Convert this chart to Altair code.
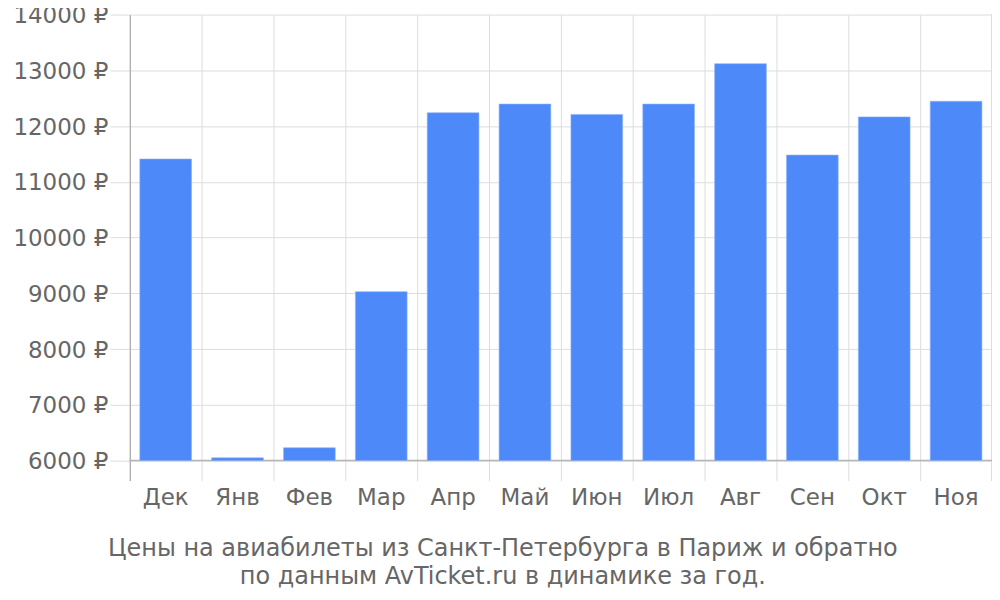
import altair as alt
import pandas as pd

months = ["Дек", "Янв", "Фев", "Мар", "Апр", "Май", "Июн", "Июл", "Авг", "Сен", "Окт", "Ноя"]
prices = [11410, 6050, 6230, 9030, 12240, 12395, 12210, 12395, 13120, 11480, 12165, 12445]
y_ticks = [6000, 7000, 8000, 9000, 10000, 11000, 12000, 13000, 14000]
baseline = 6000
title_lines = ["Цены на авиабилеты из Санкт-Петербурга в Париж и обратно",
               "по данным AvTicket.ru в динамике за год."]

df = pd.DataFrame({"month": months, "price": prices})

FONT = "DejaVu Sans"
TXT = "#666666"
W, H = 864, 467

xscale = alt.Scale(paddingInner=0, paddingOuter=0)
yscale = alt.Scale(domain=[5640, 14000], nice=False, zero=False)

yaxis = alt.Axis(title=None, values=y_ticks, labelExpr="datum.value + ' ₽'",
                 labelFontSize=23, labelColor=TXT, labelFont=FONT, labelPadding=2,
                 labelOffset=1,
                 tickSize=20, tickColor="#dddddd", domainColor="#9e9e9e",
                 gridColor="#dddddd", grid=True)

bars = alt.Chart(df).mark_bar(color="#4d89f9", stroke="#8fb4fb", strokeWidth=0.6,
                              width=alt.RelativeBandSize(0.72)).encode(
    x=alt.X("month:N", sort=months, scale=xscale,
            axis=alt.Axis(title=None, orient="bottom", labelAngle=0, ticks=False, domain=False,
                          grid=False, labelFontSize=23, labelColor=TXT, labelFont=FONT,
                          labelPadding=6)),
    y=alt.Y("price:Q", scale=yscale, axis=yaxis),
    y2=alt.datum(baseline),
)

grid = alt.Chart(df).mark_rule(color="#dddddd").encode(
    x=alt.X("month:N", sort=months, scale=xscale,
            axis=alt.Axis(title=None, orient="bottom", labels=False, ticks=False, domain=False,
                          grid=True, gridColor="#dddddd", bandPosition=0)),
    y=alt.value(0),
    y2=alt.value(0),
    opacity=alt.value(0),
)

edge = alt.Chart(df).mark_rule(color="#dddddd").encode(
    x=alt.value(W), y=alt.value(0), y2=alt.value(H)
)

base = alt.Chart(pd.DataFrame({"b": [baseline]})).mark_rule(color="#b5b5b5", strokeWidth=1.5).encode(
    y=alt.Y("b:Q", scale=yscale),
)

chart = alt.layer(grid, edge, base, bars).resolve_axis(x="independent").properties(
    width=W, height=H,
    autosize=alt.AutoSizeParams(type="none"),
    padding={"left": 122, "top": 6, "right": 0, "bottom": 119},
    title=alt.TitleParams(text=title_lines, orient="bottom", anchor="middle", frame="bounds",
                          fontSize=24, font=FONT, color=TXT, fontWeight="normal",
                          lineHeight=28, offset=28),
).configure_view(stroke=None)

chart.save("out.html", embed_options={"renderer": "svg", "actions": False})
